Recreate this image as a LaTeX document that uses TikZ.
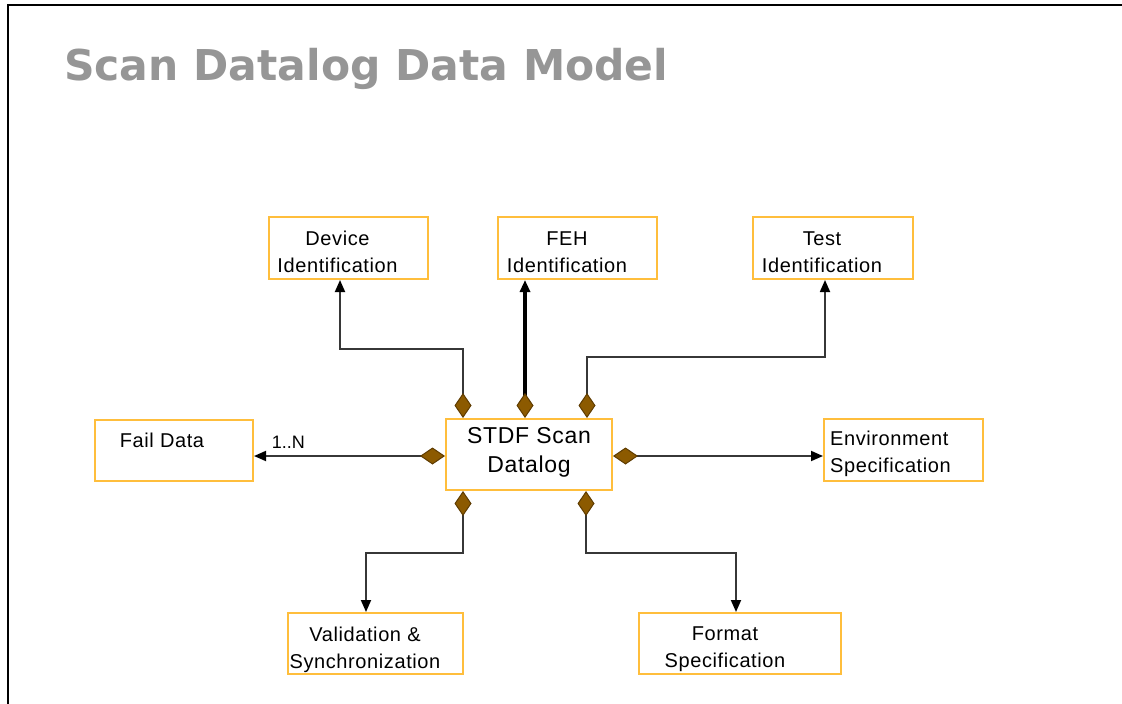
\documentclass[tikz,border=0pt]{standalone}
\usepackage{fontspec}
\setmainfont{Liberation Sans}
\newfontfamily\boxfont[LetterSpace=3]{Liberation Sans}
\newfontfamily\titlefont{DejaVu Sans}
\usetikzlibrary{arrows.meta,calc}
\definecolor{boxline}{RGB}{255,190,60}
\definecolor{dfill}{RGB}{140,90,0}
\definecolor{dline}{RGB}{95,60,0}
\definecolor{linegray}{RGB}{55,55,55}
\definecolor{titlegray}{RGB}{150,150,150}
\tikzset{
  box/.style={draw=boxline, line width=2pt, fill=white, inner sep=0pt, rectangle},
  txt/.style={inner sep=0pt, align=center, font=\boxfont\fontsize{20}{27}\selectfont},
  bigtxt/.style={inner sep=0pt, align=center, font=\boxfont\fontsize{23}{29}\selectfont},
  lbl/.style={inner sep=0pt, font=\fontsize{18}{20}\selectfont},
  dtip/.tip={Diamond[length=25pt,width=17pt,fill=dfill,color=dline,line width=1pt]},
  atip/.tip={Triangle[length=12pt,width=10pt,color=black]},
  conn/.style={draw=linegray, line width=1.8pt, dtip-atip},
  thickconn/.style={draw=black, line width=3.2pt, dtip-atip},
}
\begin{document}
\begin{tikzpicture}[x=1pt,y=-1pt]
\useasboundingbox (0,0) rectangle (1122,704);
\fill[white] (0,0) rectangle (1122,704);
% frame
\draw[line width=2.8pt, black] (8,710) -- (8,5) -- (1130,5);
% title
\node[anchor=base west, inner sep=0pt, text=titlegray] (title) at (64,80)
  {\resizebox{604pt}{!}{\titlefont\bfseries\fontsize{43}{50}\selectfont Scan Datalog Data Model}};
% boxes
\node[box, minimum width=159pt, minimum height=62pt] (dev)  at (348.5,248) {};
\node[box, minimum width=159pt, minimum height=62pt] (feh)  at (577.5,248) {};
\node[box, minimum width=160pt, minimum height=62pt] (test) at (833,248) {};
\node[box, minimum width=158pt, minimum height=61pt] (fail) at (174,450.5) {};
\node[box, minimum width=166pt, minimum height=71pt] (stdf) at (529,454.5) {};
\node[box, minimum width=159pt, minimum height=62pt] (env)  at (903.5,450) {};
\node[box, minimum width=175pt, minimum height=61pt] (val)  at (375.5,643.5) {};
\node[box, minimum width=202pt, minimum height=61pt] (fmt)  at (740,643.5) {};
% texts
\node[txt] (devt)  at (337.5,252) {Device\\Identification};
\node[txt] (feht)  at (567,252) {FEH\\Identification};
\node[txt] (testt) at (822,252) {Test\\Identification};
\node[txt, anchor=base] (failt) at (162,447) {Fail Data};
\node[bigtxt] (stdft) at (529,452) {STDF Scan\\Datalog};
\node[txt, align=left, anchor=west] (envt) at (830,453.5) {Environment\\Specification};
\node[txt] (valt) at (365,649.5) {Validation \&\\Synchronization};
\node[txt] (fmtt) at (725,649.5) {Format\\Specification};
% connectors
\draw[conn] ([xshift=-66pt]stdf.north) -- ++(0,-69) -| ([xshift=-8.5pt]dev.south);
\draw[thickconn] ([xshift=-4pt]stdf.north) -- ([xshift=-4pt]stdf.north |- feh.south);
\draw[conn] ([xshift=58pt]stdf.north) -- ++(0,-61) -| ([xshift=-8pt]test.south);
\draw[conn] ([yshift=-1.5pt]stdf.west) -- node[lbl, pos=0.82, above=7pt] (n) {1..N} ([yshift=-1.5pt]stdf.west -| fail.east);
\draw[conn] ([yshift=-1.5pt]stdf.east) -- ([yshift=-1.5pt]stdf.east -| env.west);
\draw[conn] ([xshift=-66pt]stdf.south) -- ++(0,62) -| ([xshift=-9.5pt]val.north);
\draw[conn] ([xshift=57pt]stdf.south) -- ++(0,62) -| ([xshift=-4pt]fmt.north);
\end{tikzpicture}
\end{document}
